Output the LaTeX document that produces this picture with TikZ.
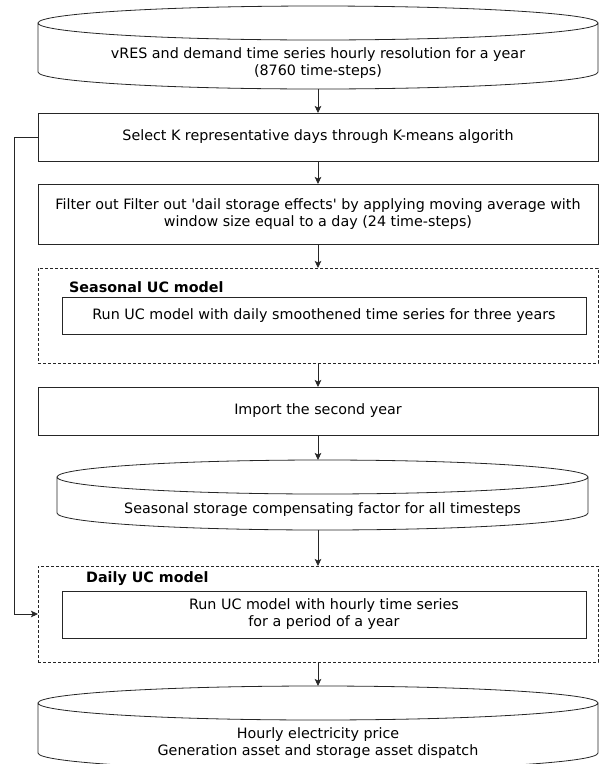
\documentclass[tikz,border=0pt]{standalone}
\usepackage{fontspec}
\setmainfont{DejaVu Sans}[Ligatures=TeXOff]
\usetikzlibrary{calc,arrows.meta}

% outline of a vertical cylinder drawn over the bounding box of node #1,
% with the top ellipse and bottom arc of half height #2 (pt)
\newcommand\cylout[2]{%
  \draw[shapeline] let \p1=(#1.north west), \p2=(#1.south east),
      \n1={(\x2-\x1)/2} in
    (\x1+\n1,\y1-#2pt) ellipse [x radius=\n1, y radius=#2pt]
    (\x1,\y1-#2pt) -- (\x1,\y2+#2pt)
      arc[start angle=180, end angle=360, x radius=\n1, y radius=#2pt]
      -- (\x2,\y1-#2pt);}

\begin{document}
\begin{tikzpicture}[x=1pt,y=-1pt,
  font=\fontsize{14.3}{17}\selectfont,
  shapeline/.style={draw=black!85, line width=0.8pt},
  frame/.style={inner sep=0pt, outer sep=0pt, minimum width=#1},
  procbox/.style={frame=560pt, draw=black!85, line width=0.8pt, align=center},
  innerbox/.style={frame=524pt, draw=black!85, line width=0.8pt, align=center},
  groupbox/.style={frame=560pt, draw=black!85, line width=0.8pt,
    dash pattern=on 3pt off 2pt},
  grouplabel/.style={anchor=west, inner sep=0pt, font=\fontsize{14.3}{17}\selectfont\bfseries},
  cylframe/.style={frame=#1, draw=none},
  cyltext/.style={align=center},
  arr/.style={draw=black!85, line width=0.8pt,
    -{Stealth[length=7pt, width=6.5pt, inset=1.5pt]}}]

\useasboundingbox (0,0) rectangle (599,764);

% input data
\node[cylframe=560pt, minimum height=83pt] (src) at (318,47.5) {};
\cylout{src}{17}
\node[cyltext] (srctxt) at (318,63.5) {vRES and demand time series hourly resolution for a year\\(8760 time-steps)};

% processing steps
\node[procbox, minimum height=48pt] (sel) at (318,137)
  {Select K representative days through K-means algorith};
\node[procbox, minimum height=60pt] (filt) at (318,214)
  {Filter out Filter out 'dail storage effects' by applying moving average with\\window size equal to a day (24 time-steps)};

% seasonal model group
\node[groupbox, minimum height=95pt] (seas) at (318,315.5) {};
\node[grouplabel] (seaslbl) at (69,287) {Seasonal UC model};
\node[innerbox, minimum height=37pt] (runs) at (324,315.5)
  {Run UC model with daily smoothened time series for three years};

\node[procbox, minimum height=48pt] (imp) at (318,411) {Import the second year};

% compensating factor
\node[cylframe=531pt, minimum height=70pt] (sto) at (322.5,495) {};
\cylout{sto}{17}
\node[cyltext] (stotxt) at (322.5,510) {Seasonal storage compensating factor for all timesteps};

% daily model group
\node[groupbox, minimum height=96pt] (daily) at (318,614) {};
\node[grouplabel] (dailylbl) at (86,579) {Daily UC model};
\node[innerbox, minimum height=47pt] (rund) at (324,614.5)
  {Run UC model with hourly time series\\for a period of a year};

% results
\node[cylframe=560pt, minimum height=84pt] (out) at (318,728) {};
\cylout{out}{17}
\node[cyltext] (outtxt) at (318,743.5) {Hourly electricity price\\Generation asset and storage asset dispatch};

% connectors
\draw[arr] (src.south) -- (sel.north);
\draw[arr] (sel.south) -- (filt.north);
\draw[arr] (filt.south) -- (seas.north);
\draw[arr] (seas.south) -- (imp.north);
\draw[arr] (imp.south) -- (imp.south |- sto.north);
\draw[arr] (sto.south -| daily.north) -- (daily.north);
\draw[arr] (daily.south) -- (out.north);
\draw[arr] (sel.west) -- ++(-24,0) |- (daily.west);

\end{tikzpicture}
\end{document}
